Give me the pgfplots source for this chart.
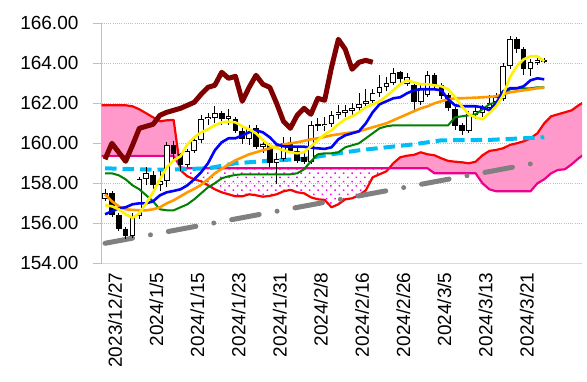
\documentclass[border=0pt]{standalone}
\usepackage{fontspec}
\setmainfont{Liberation Sans}
\usepackage{pgfplots}
\usepackage{pgfplotstable}
\pgfplotsset{compat=1.18}
\usepgfplotslibrary{fillbetween}
\usetikzlibrary{patterns.meta}

\definecolor{cloudpink}{RGB}{255,153,204}
\definecolor{chikoucol}{RGB}{128,0,0}
\definecolor{skyc}{RGB}{0,190,245}
\definecolor{trendgray}{RGB}{128,128,128}
\definecolor{orangeline}{RGB}{255,153,0}
\definecolor{greenline}{RGB}{0,128,0}
\definecolor{gridgray}{RGB}{191,191,191}

\pgfplotstableread{
i O H L C
0 157.20 157.70 157.10 157.50
1 157.50 157.60 156.30 156.40
2 156.40 156.50 155.60 155.70
3 155.70 155.80 155.20 155.35
4 155.35 156.50 155.25 156.35
5 156.35 158.30 156.20 158.20
6 158.20 158.80 157.90 158.50
7 158.40 158.60 157.70 157.90
8 157.90 158.60 157.60 158.10
9 158.10 160.05 157.80 159.90
10 159.90 160.10 159.20 159.45
11 159.45 159.50 158.60 158.90
12 158.90 159.70 158.80 159.60
13 159.60 160.30 159.50 160.15
14 160.15 161.40 160.00 161.20
15 161.20 161.50 160.90 161.30
16 161.25 161.85 161.00 161.50
17 161.50 161.60 160.90 161.20
18 161.20 161.70 160.90 161.35
19 161.20 161.30 160.50 160.60
20 160.60 160.90 159.95 160.20
21 160.20 160.90 159.90 160.70
22 160.75 160.90 159.70 159.80
23 159.80 160.20 159.50 159.95
24 159.90 160.00 158.80 159.00
25 159.00 159.50 157.95 159.20
26 159.20 160.30 159.10 160.00
27 160.05 160.30 159.50 159.60
28 159.60 159.80 159.00 159.10
29 159.30 159.50 158.95 159.05
30 159.05 161.10 158.95 160.90
31 160.95 161.25 160.60 160.85
32 160.85 161.30 160.60 160.95
33 160.95 161.60 160.80 161.40
34 161.40 161.90 161.20 161.55
35 161.50 161.90 161.30 161.65
36 161.60 162.00 161.40 161.75
37 161.75 162.50 161.60 161.95
38 161.95 162.70 161.80 162.10
39 162.10 162.70 161.90 162.50
40 162.50 163.40 162.30 162.80
41 162.80 163.30 162.60 163.00
42 163.00 163.75 162.90 163.50
43 163.55 163.60 163.00 163.20
44 162.95 163.50 162.85 163.30
45 162.90 163.00 161.65 162.05
46 162.05 162.90 161.90 162.75
47 162.40 163.60 162.30 163.40
48 163.40 163.50 162.70 162.85
49 162.90 163.00 162.20 162.35
50 162.40 162.50 161.60 161.75
51 161.70 161.80 160.65 160.85
52 160.90 161.00 160.40 160.60
53 160.60 161.60 160.50 161.45
54 161.40 161.80 161.20 161.60
55 161.50 161.90 161.30 161.75
56 161.75 162.40 161.60 162.00
57 162.05 162.50 161.90 162.30
58 162.20 164.00 162.10 163.85
59 163.85 165.35 163.70 165.20
60 165.20 165.30 164.50 164.70
61 164.70 164.80 163.40 163.70
62 163.70 164.20 163.35 164.05
63 164.00 164.30 163.90 164.15
64 164.15 164.25 164.00 164.05
}\candles

\pgfplotstableread{
i Y Bl G Or
0 156.90 156.45 158.50 157.45
1 156.85 156.60 158.50 157.10
2 156.70 156.75 158.40 156.85
3 156.45 156.80 158.20 156.70
4 156.27 156.95 157.90 156.67
5 156.50 157.00 157.70 156.65
6 157.00 157.00 157.40 156.65
7 157.55 157.10 157.10 156.70
8 158.20 157.40 156.70 156.80
9 158.80 157.55 156.65 157.00
10 159.15 157.62 156.65 157.15
11 159.35 157.70 156.80 157.35
12 159.95 157.90 156.95 157.55
13 160.30 158.20 157.20 157.72
14 160.55 158.55 157.50 157.92
15 160.70 159.00 157.80 158.20
16 160.90 159.65 158.00 158.50
17 161.05 160.05 158.25 158.72
18 161.08 160.25 158.35 158.95
19 161.05 160.25 158.42 159.15
20 160.85 160.40 158.45 159.30
21 160.70 160.55 158.45 159.45
22 160.50 160.65 158.45 159.55
23 160.15 160.55 158.45 159.65
24 159.90 160.30 158.45 159.75
25 159.75 159.95 158.45 159.85
26 159.65 159.85 158.45 159.95
27 159.55 159.83 158.45 160.00
28 159.50 159.83 158.50 160.05
29 159.55 159.83 158.70 160.12
30 159.85 159.78 159.10 160.20
31 160.15 159.75 159.45 160.25
32 160.45 159.72 159.50 160.32
33 160.65 159.80 159.50 160.40
34 160.95 160.20 159.55 160.45
35 161.20 160.40 159.80 160.50
36 161.35 160.50 159.90 160.55
37 161.55 160.60 160.00 160.60
38 161.80 161.00 160.25 160.70
39 161.95 161.55 160.50 160.80
40 162.10 161.95 160.75 160.90
41 162.35 162.10 160.85 161.00
42 162.65 162.25 160.90 161.15
43 162.95 162.30 160.90 161.30
44 163.15 162.50 160.90 161.45
45 163.05 162.65 160.90 161.60
46 162.95 162.70 160.90 161.75
47 162.95 162.70 160.90 161.85
48 162.90 162.70 160.90 162.00
49 162.85 162.65 160.90 162.10
50 162.70 162.20 160.90 162.20
51 162.30 161.90 161.30 162.25
52 161.85 161.85 161.35 162.25
53 161.45 161.85 161.40 162.27
54 161.30 161.85 161.45 162.28
55 161.20 161.80 161.70 162.30
56 161.50 161.65 161.95 162.32
57 161.85 162.00 162.05 162.35
58 162.40 162.60 162.40 162.45
59 163.30 162.75 162.70 162.55
60 163.85 162.75 162.75 162.60
61 164.20 162.85 162.75 162.65
62 164.35 163.15 162.75 162.70
63 164.35 163.25 162.80 162.75
64 164.10 163.20 162.80 162.78
}\lines

\pgfplotstableread{
i A B
-1 161.90 159.37
0 161.90 159.37
1 161.90 159.37
2 161.90 159.37
3 161.90 159.37
4 161.85 159.37
5 161.70 159.37
6 161.50 159.37
7 161.30 159.37
8 161.10 159.37
9 161.15 159.37
10 161.17 159.37
11 158.65 158.80
12 158.35 158.75
13 158.20 158.75
14 158.10 158.75
15 157.90 158.75
16 157.70 158.75
17 157.55 158.75
18 157.45 158.75
19 157.35 158.75
20 157.35 158.75
21 157.45 158.75
22 157.40 158.75
23 157.33 158.75
24 157.37 158.75
25 157.45 158.75
26 157.60 158.75
27 157.67 158.75
28 157.55 158.75
29 157.50 158.75
30 157.30 158.75
31 157.20 158.75
32 157.17 158.75
33 156.80 158.75
34 156.95 158.75
35 157.20 158.75
36 157.25 158.75
37 157.40 158.75
38 157.65 158.75
39 158.30 158.75
40 158.45 158.75
41 158.60 158.75
42 159.00 158.75
43 159.30 158.75
44 159.38 158.75
45 159.42 158.75
46 159.55 158.75
47 159.45 158.75
48 159.40 158.50
49 159.25 158.50
50 159.12 158.50
51 159.08 158.50
52 159.05 158.50
53 159.00 158.50
54 159.08 158.50
55 159.40 158.00
56 159.62 157.70
57 159.67 157.60
58 159.75 157.60
59 159.92 157.60
60 160.00 157.60
61 160.10 157.60
62 160.25 157.60
63 160.50 158.00
64 161.00 158.20
65 161.35 158.50
66 161.45 158.67
67 161.55 158.70
68 161.65 158.95
69 161.90 159.25
70 162.10 159.50
}\cloud

\pgfplotstableread{
i V
0 159.20
1 160.00
2 159.55
3 159.10
4 159.90
5 160.75
6 160.85
7 160.95
8 161.40
9 161.55
10 161.65
11 161.75
12 161.90
13 162.05
14 162.45
15 162.80
16 162.90
17 163.55
18 163.25
19 163.35
20 162.10
21 162.80
22 163.40
23 162.95
24 162.80
25 162.00
26 161.10
27 160.75
28 161.40
29 161.75
30 161.45
31 162.25
32 162.15
33 163.80
34 165.20
35 164.70
36 163.70
37 164.05
38 164.15
39 164.05
}\chikou

\begin{document}
\begin{tikzpicture}
\begin{axis}[
  at={(101.6pt,117.7pt)}, anchor=south west,
  scale only axis, width=480.4pt, height=240pt,
  xmin=-0.5, xmax=69.5, ymin=154, ymax=166,
  enlargelimits=false,
  axis x line*=bottom, axis y line*=left,
  x axis line style={-, draw={rgb,255:red,217;green,217;blue,217}, line width=1pt},
  y axis line style={-, draw={rgb,255:red,191;green,191;blue,191}, line width=1pt},
  tick align=outside,
  major tick length=9pt,
  ytick={154,156,...,166},
  ytick style={draw={rgb,255:red,191;green,191;blue,191}, line width=0.8pt},
  xtick={0,6,...,60},
  xtick style={draw=none},
  xticklabels={2023/12/27,2024/1/5,2024/1/15,2024/1/23,2024/1/31,2024/2/8,2024/2/16,2024/2/26,2024/3/5,2024/3/13,2024/3/21},
  /pgf/number format/assume math mode=true,
  yticklabel={\pgfmathprintnumber[fixed,fixed zerofill,precision=2]{\tick}},
  every tick label/.append style={font=\fontsize{19}{22}\selectfont, text=black},
  yticklabel style={anchor=east, inner sep=0pt, xshift=-14pt},
  xticklabel style={rotate=90, anchor=east, inner sep=0pt, yshift=-10pt},
  ymajorgrids,
  major grid style={draw=gridgray, line width=0.8pt, dash pattern=on 1pt off 1.2pt},
  clip=true,
]
% cloud boundaries (invisible, for the fills)
\addplot[name path=A, draw=none, forget plot] table[x=i, y=A] {\cloud};
\addplot[name path=B, draw=none, forget plot] table[x=i, y=B] {\cloud};
\addplot[fill=cloudpink, draw=none, forget plot] fill between[of=A and B, soft clip={domain=-1:10.92}];
\addplot[pattern={Dots[distance=6pt, angle=45, radius=1.1pt]}, pattern color=magenta, draw=none, forget plot] fill between[of=A and B, soft clip={domain=10.92:41.375}];
\addplot[fill=cloudpink, draw=none, forget plot] fill between[of=A and B, soft clip={domain=41.375:70}];

% cloud lines
\addplot[red, line width=2.2pt, line join=round] table[x=i, y=A] {\cloud};
\addplot[magenta, line width=2.2pt, line join=round] table[x=i, y=B] {\cloud};

% trend line
\addplot[trendgray, line width=5pt, line cap=round, dash pattern=on 28pt off 18.2pt on 0pt off 18.2pt] coordinates {(0,155.0) (64,159.1)};

% long moving average (dashed)
\addplot[skyc, line width=4pt, dash pattern=on 11.5pt off 6pt] coordinates {
(0,158.75) (7,158.68) (11,158.70) (15,158.75) (19,159.00) (24,159.13) (29,159.22) (33,159.45) (37,159.65) (41,159.80) (45,159.95) (49,160.15) (56,160.17) (64,160.30)};

% candles: wicks
\addplot[draw=none, mark=none, forget plot, error bars/.cd, y dir=minus, y explicit, error mark=none,
  error bar style={draw=black, solid, line width=0.7pt}]
  table[x=i, y=H, y error minus expr=\thisrow{H}-\thisrow{L}] {\candles};
% candles: bodies (black)
\addplot[draw=none, mark=none, forget plot, error bars/.cd, y dir=minus, y explicit, error mark=none,
  error bar style={draw=black, solid, line width=5.6pt, line cap=butt}]
  table[x=i, y expr={max(\thisrow{O},\thisrow{C})}, y error minus expr={abs(\thisrow{O}-\thisrow{C})}] {\candles};
% candles: white interiors
\addplot[draw=none, mark=none, forget plot, error bars/.cd, y dir=minus, y explicit, error mark=none,
  error bar style={draw=white, solid, line width=3.8pt, line cap=butt}]
  table[x=i, y expr={\thisrow{C}>\thisrow{O} ? \thisrow{C}-0.045 : 200}, y error minus expr={max(\thisrow{C}-\thisrow{O}-0.09,0)}] {\candles};

% moving averages / ichimoku lines
\addplot[greenline, line width=2pt, line join=round] table[x=i, y=G] {\lines};
\addplot[orangeline, line width=2.6pt, line join=round] table[x=i, y=Or] {\lines};
\addplot[blue, line width=2.6pt, line join=round] table[x=i, y=Bl] {\lines};
\addplot[yellow, line width=2.6pt, line join=round] table[x=i, y=Y] {\lines};

% lagging span
\addplot[chikoucol, line width=5pt, line join=round] table[x=i, y=V] {\chikou};
\end{axis}
\pgfresetboundingbox
\path[use as bounding box] (0,0) rectangle (587pt,381pt);
\end{tikzpicture}
\end{document}
